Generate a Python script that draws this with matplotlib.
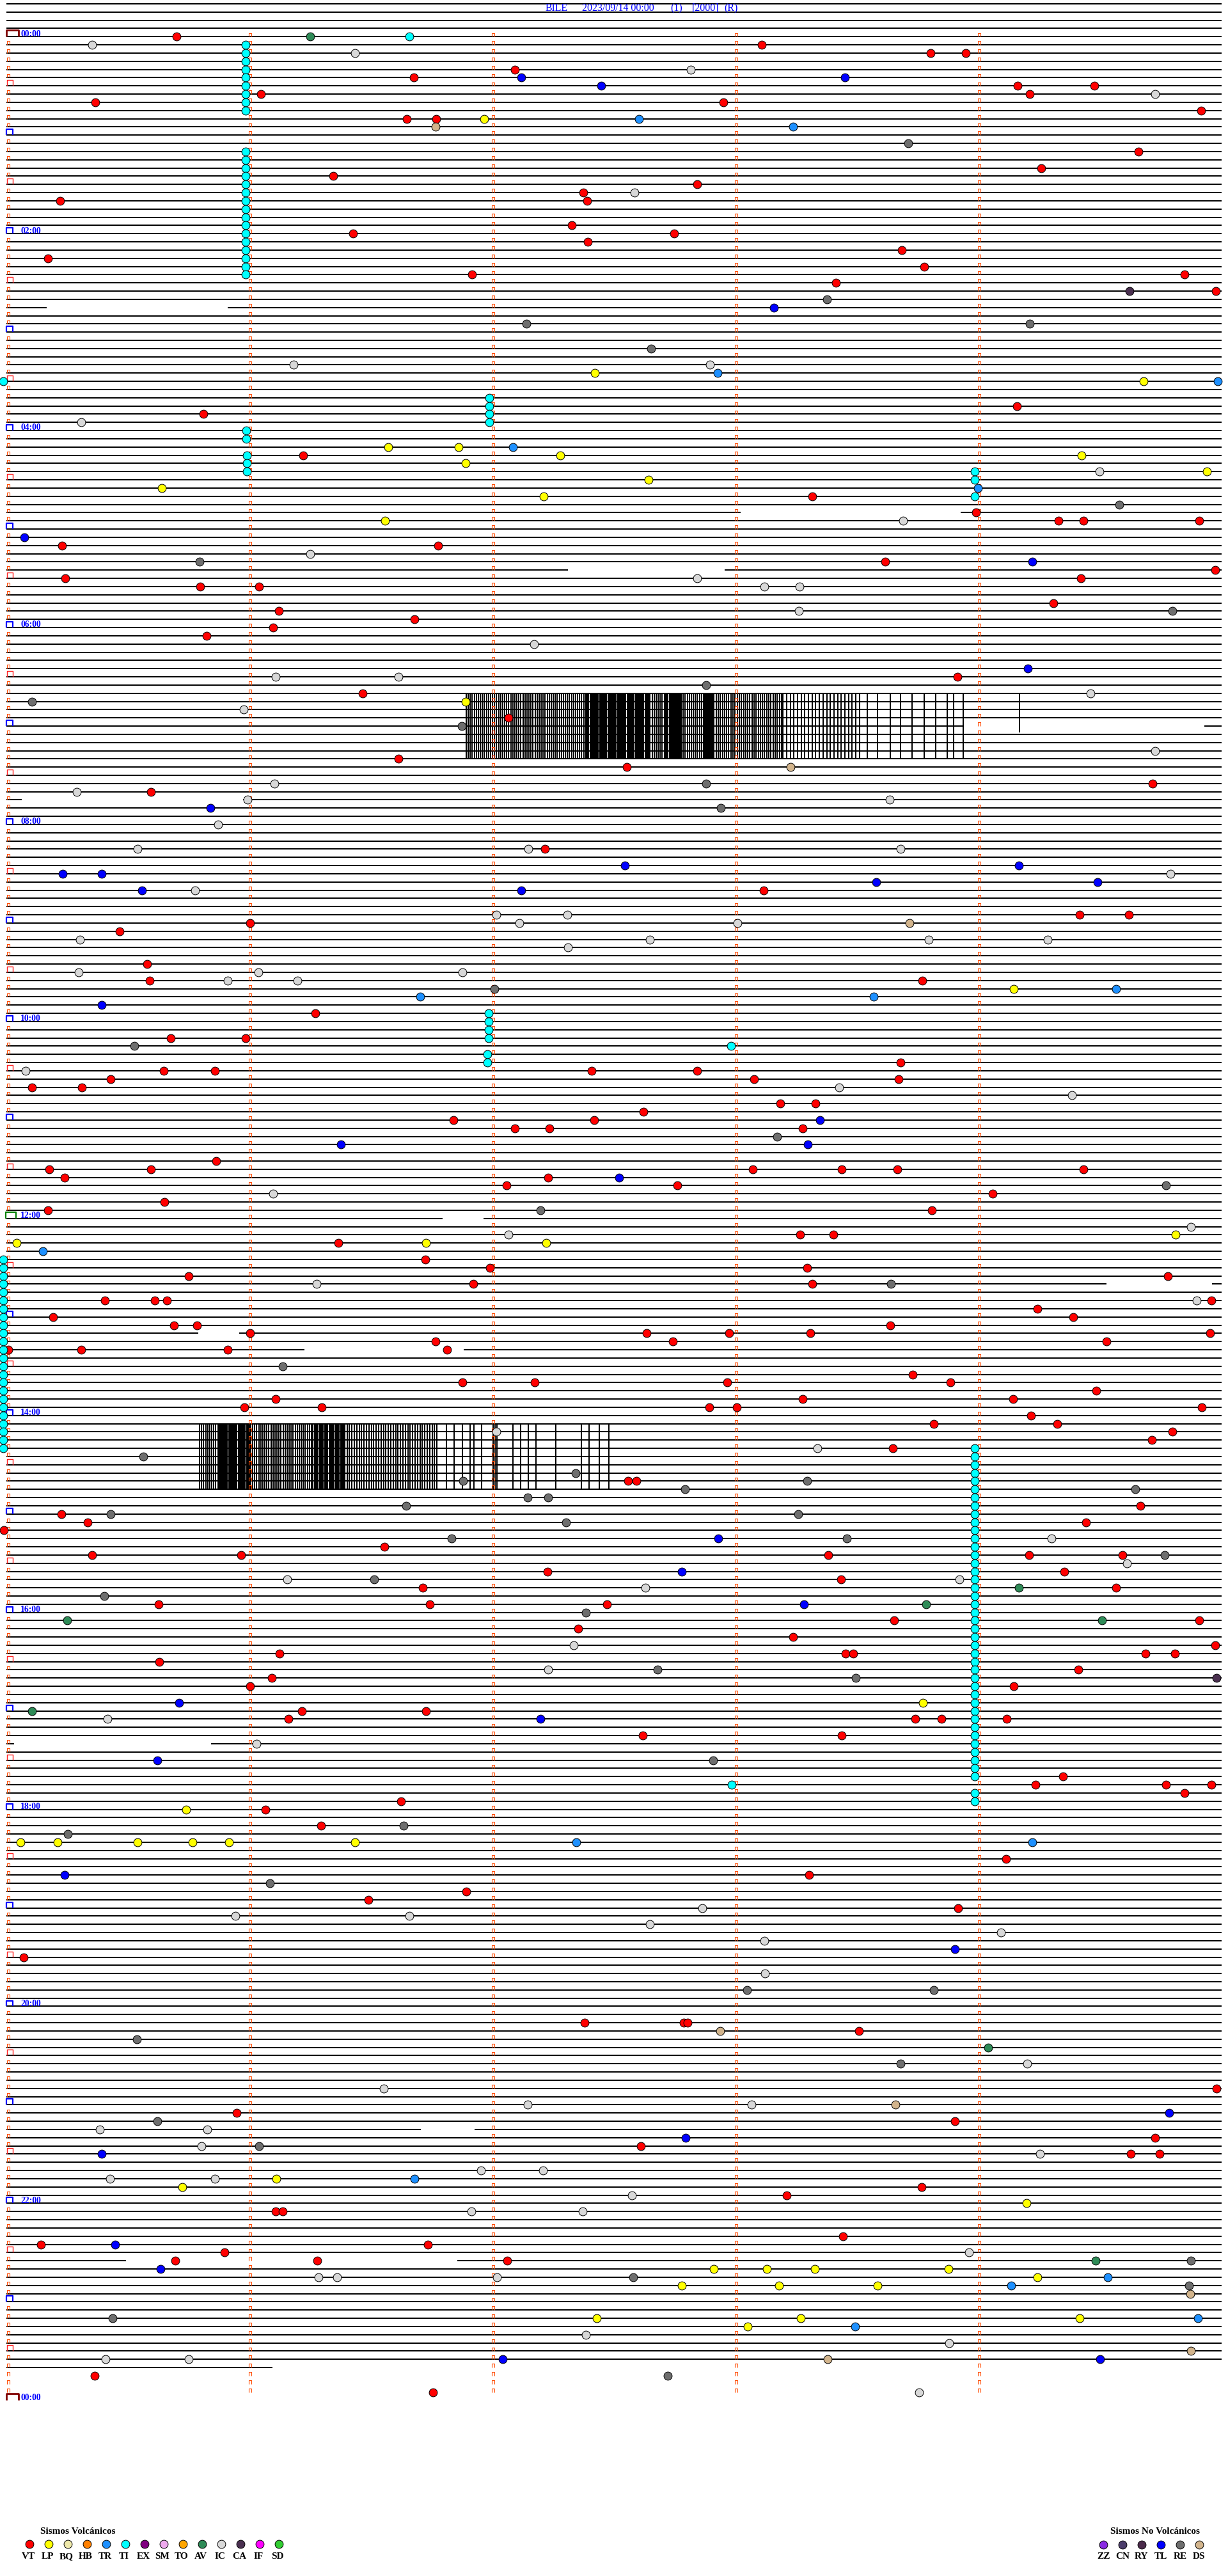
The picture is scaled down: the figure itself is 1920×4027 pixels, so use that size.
import matplotlib
matplotlib.use('Agg')
import matplotlib.pyplot as plt
from matplotlib.collections import LineCollection

# helicorder: one row = 5 minutes, x = seconds inside the row, row 0 = 00:00
ROW_SECONDS = 300
FIRST_ROW, LAST_ROW = -4, 284
LAST_ROW_END = 65.7
N_MARK_ROWS = 288

title_parts = [('BILE', 133.1), ('2023/09/14 00:00', 142.1), ('(1)', 163.9),
               ('[2000]', 169.3), ('(R)', 177.2)]
time_labels = ['00:00', '02:00', '04:00', '06:00', '08:00', '10:00', '12:00',
               '14:00', '16:00', '18:00', '20:00', '22:00', '00:00']

# (row, start sec, end sec) where the trace line is missing
line_gaps = [(33, 10.0, 54.6), (58, 181.3, 235.6), (65, 138.6, 177.3), (84, 236.2, 295.7),
             (93, 3.8, 58.4), (144, 107.7, 117.8), (152, 271.6, 297.7), (158, 47.4, 57.4),
             (160, 73.6, 112.9), (208, 1.9, 50.6), (255, 102.3, 115.6), (271, 29.5, 111.3)]

# saturated trace blocks: (first row, last row, [(start sec, end sec, pitch sec)], single lines)
block1_rows = (80, 88)
block1_bands = [(113.5, 143.4, 0.5), (143.4, 158.9, 0.34), (158.9, 162.7, 0.5), (162.7, 166.6, 0.32),
                (166.6, 172.4, 0.5), (172.4, 174.7, 0.32), (174.7, 191.7, 0.52), (191.7, 211.0, 0.9)]
block1_single = [212.6, 215.0, 218.2, 220.7, 223.6, 226.5, 229.4, 232.3, 233.9, 236.2]
block2_rows = (169, 177)
block2_bands = [(47.7, 52.5, 0.5), (52.5, 60.3, 0.34), (60.3, 75.7, 0.5), (75.7, 83.5, 0.36),
                (83.5, 106.7, 0.6), (120.2, 121.5, 0.45)]
block2_single = [108.6, 110.5, 112.5, 114.4, 115.4, 117.3, 125.0, 127.0, 128.9, 130.8,
                 135.7, 141.9, 143.8, 146.3, 148.8]
extra_trace = (250.1, 80, 84.8)

# events (row, second)
vt_events = [(0, 42), (1, 186.5), (2, 228.2), (2, 236.9), (4, 125.6), (5, 100.5), (6, 249.7), (6, 268.6),
             (7, 62.8), (7, 252.6), (8, 22), (8, 177), (9, 294.9), (10, 98.9), (10, 106.1), (14, 279.5),
             (16, 255.5), (17, 80.7), (18, 170.6), (19, 142.4), (20, 13.3), (20, 143.4), (23, 139.5),
             (24, 85.6), (24, 164.8), (25, 143.6), (26, 221.1), (27, 10.2), (28, 226.5), (29, 115),
             (29, 290.9), (30, 204.8), (31, 298.6), (45, 249.5), (46, 48.7), (51, 73.2), (56, 199),
             (58, 239.4), (59, 259.7), (59, 265.9), (59, 294.4), (62, 13.7), (62, 106.5), (64, 217),
             (65, 298.4), (66, 14.6), (66, 265.2), (67, 47.9), (67, 62.4), (69, 258.4), (70, 67.2),
             (71, 100.8), (72, 65.9), (73, 49.4), (78, 234.8), (80, 87.9), (83, 124), (88, 96.8),
             (89, 153.2), (91, 282.9), (92, 35.7), (99, 132.9), (104, 186.9), (107, 265), (107, 277.1),
             (108, 60.1), (109, 28), (113, 34.7), (115, 35.3), (115, 226.1), (119, 76.3),
             (122, 40.5), (122, 59.1), (125, 220.7), (126, 38.8), (126, 51.4), (126, 144.5), (126, 170.6),
             (127, 25.8), (127, 184.6), (127, 220.3), (128, 6.3), (128, 18.7), (130, 191.1), (130, 199.8),
             (131, 157.3), (132, 110.3), (132, 145.1), (133, 125.6), (133, 134.1), (133, 196.5),
             (137, 51.8), (138, 10.6), (138, 35.7), (138, 184.2), (138, 206.2), (138, 219.9), (138, 265.9),
             (139, 14.3), (139, 133.7), (140, 123.5), (140, 165.6), (141, 243.5), (142, 39), (143, 10.2),
             (143, 228.4), (146, 196), (146, 204.1), (147, 81.9), (149, 103.4), (150, 119.4), (150, 197.7),
             (151, 45), (151, 286.8), (152, 115.2), (152, 198.9), (154, 24.3), (154, 36.7), (154, 39.6),
             (154, 297.4), (155, 254.5), (156, 11.5), (156, 263.4), (157, 41.3), (157, 47.1), (157, 218.2),
             (158, 60.1), (158, 158.1), (158, 178.4), (158, 198.5), (158, 297.1), (159, 105.9),
             (159, 164.6), (159, 271.5), (160, 0.5), (160, 18.5), (160, 54.7), (160, 108.8), (163, 223.8),
             (164, 112.6), (164, 130.4), (164, 178), (164, 233.1), (165, 269.1), (166, 66.4), (166, 196.5),
             (166, 248.5), (167, 58.7), (167, 77.9), (167, 173.5), (167, 180.3), (167, 295.1), (168, 253),
             (169, 229), (169, 259.4), (170, 287.8), (171, 282.8), (172, 218.8), (176, 153.4), (176, 155.6),
             (179, 280), (180, 13.5), (181, 20.1), (181, 266.5), (182, -0.6),
             (184, 93.3), (185, 21.2), (185, 57.9), (185, 202.9), (185, 252.4), (185, 275.6), (187, 133.5),
             (187, 261.1), (188, 206), (189, 102.8), (189, 273.9), (191, 37.6), (191, 104.5), (191, 148.2),
             (193, 219.1), (193, 294.5), (194, 141.1), (195, 194.2), (196, 298.4), (197, 67.4), (197, 207.2),
             (197, 209.1), (197, 281.2), (197, 288.5), (198, 37.8), (199, 264.6), (200, 65.5), (201, 60.1),
             (201, 248.7), (204, 73), (204, 103.6), (205, 69.7), (205, 224.4), (205, 230.8), (205, 247),
             (207, 157.1), (207, 206.2), (212, 260.9), (213, 254.1), (213, 286.2), (213, 297.4),
             (214, 290.9), (215, 97.4), (216, 63.9), (218, 77.7), (222, 246.8), (224, 198.1), (226, 113.6),
             (227, 89.4), (228, 235), (234, 4.2), (242, 142.8), (242, 167.2), (242, 168.1), (243, 210.4),
             (250, 298.8), (253, 56.8), (254, 234.2), (256, 283.5), (257, 156.7), (258, 277.5), (258, 284.7),
             (262, 225.9), (263, 192.7), (265, 66.4), (265, 68.2), (268, 206.6), (269, 8.6), (269, 104.1),
             (270, 53.9), (271, 41.7), (271, 76.7), (271, 123.7), (285, 21.8), (287, 105.3)]
lp_events = [(10, 117.9), (41, 145.3), (42, 280.8), (50, 94.3), (50, 111.7), (51, 136.8), (51, 265.4),
             (52, 113.4), (53, 296.3), (54, 158.5), (55, 38.4), (56, 132.7), (59, 93.5), (81, 113.4),
             (116, 248.7), (146, 288.6), (147, 2.5), (147, 103.6), (147, 133.3), (203, 226.3), (216, 44.4),
             (220, 3.4), (220, 12.7), (220, 32.4), (220, 46), (220, 55), (220, 86), (261, 66.6), (262, 43.4),
             (264, 251.8), (272, 174.7), (272, 187.8), (272, 199.6), (272, 232.5), (273, 254.5),
             (274, 166.8), (274, 190.7), (274, 215.1), (278, 145.7), (278, 196.1), (278, 265), (279, 183)]
tr_events = [(10, 156.1), (11, 194.2), (41, 175.5), (42, 299), (50, 125), (55, 239.8), (116, 273.9),
             (117, 102.2), (117, 214.1), (148, 9), (220, 140.7), (220, 253.2), (261, 100.8), (273, 271.9),
             (274, 248.1), (278, 294.1), (279, 209.5)]
ti_events = [(0, 99.5), (123, 178.9), (213, 179.1)]
# runs of tremor marks: (first row, last row, second)
ti_runs = [(1, 9, 59.1), (14, 29, 59.1), (48, 49, 59.2), (51, 53, 59.4), (44, 47, 119.2),
           (119, 122, 119.1), (124, 125, 118.8), (53, 54, 239.1), (56, 56, 239.1), (172, 212, 239.1),
           (214, 215, 239.1), (42, 42, -0.8), (149, 172, -0.8)]
av_events = [(0, 75), (189, 249.9), (191, 227.1), (193, 15), (193, 270.4), (204, 6.3), (245, 242.4),
             (271, 268.9)]
ic_events = [(1, 21.2), (2, 86), (4, 168.9), (7, 283.5), (19, 155), (40, 70.9), (40, 173.7), (47, 18.5),
             (53, 269.8), (59, 221.3), (63, 75), (66, 170.6), (67, 187.1), (67, 195.8), (70, 195.6),
             (74, 130.2), (78, 66.4), (78, 96.8), (80, 267.7), (82, 58.5), (87, 283.5), (91, 66.1),
             (92, 17.3), (93, 59.5), (93, 218), (96, 52.3), (99, 32.4), (99, 128.9), (99, 220.7),
             (102, 287.4), (104, 46.5), (107, 121), (107, 138.5), (108, 126.6), (108, 180.5), (110, 18.1),
             (110, 158.8), (110, 227.7), (110, 257), (111, 138.7), (114, 17.9), (114, 62.2), (114, 112.6),
             (115, 54.7), (115, 71.9), (126, 4.8), (128, 205.6), (129, 263), (141, 65.9), (145, 292.4),
             (146, 124), (152, 76.5), (154, 293.8), (170, 121), (172, 200.2), (183, 258), (186, 276.6),
             (188, 69.3), (188, 235.2), (189, 157.7), (196, 140.1), (199, 133.7), (205, 24.9), (208, 61.8),
             (228, 171.8), (229, 56.6), (229, 99.5), (230, 158.8), (231, 245.6), (232, 187.1), (236, 187.3),
             (247, 252), (250, 93.1), (252, 128.7), (252, 184), (255, 23.1), (255, 49.6), (257, 48.1),
             (258, 255.1), (260, 117.1), (260, 132.4), (261, 25.5), (261, 51.4), (263, 154.4), (265, 114.8),
             (265, 142.2), (270, 237.7), (273, 77.1), (273, 81.7), (273, 121.1), (280, 143), (281, 232.7),
             (283, 24.5), (283, 45), (287, 225.3)]
ca_events = [(31, 277.3), (200, 298.8)]
tl_events = [(5, 127.1), (5, 207), (6, 146.9), (33, 189.4), (61, 4.4), (64, 253.2), (77, 252.2), (94, 50.4),
             (101, 152.7), (101, 249.9), (102, 13.9), (102, 23.5), (103, 214.7), (103, 269.4), (104, 33.4),
             (104, 127.1), (118, 23.5), (132, 200.8), (135, 82.5), (135, 197.9), (139, 151.3), (183, 175.7),
             (187, 166.8), (191, 196.9), (203, 42.7), (205, 131.8), (210, 37.3), (224, 14.4), (233, 234.2),
             (253, 287), (256, 167.7), (258, 23.5), (269, 26.8), (272, 38), (283, 122.5), (283, 270)]
re_events = [(13, 222.6), (32, 202.5), (35, 128.3), (35, 252.6), (38, 159.2), (57, 274.8), (64, 47.7),
             (70, 287.8), (79, 172.8), (81, 6.3), (84, 112.4), (91, 172.8), (94, 176.4), (116, 120.4),
             (123, 31.6), (134, 190.2), (140, 286.2), (143, 131.8), (152, 218.4), (162, 68.2), (173, 33.8),
             (175, 140.5), (176, 112.8), (176, 197.7), (177, 167.5), (177, 278.7), (178, 128.7),
             (178, 133.7), (179, 98.7), (180, 25.7), (180, 195.4), (181, 138.2), (183, 109.9), (183, 207.4),
             (185, 285.9), (188, 90.8), (190, 24.1), (192, 143), (199, 160.8), (200, 209.7), (210, 174.5),
             (218, 98.1), (219, 15.2), (225, 65.1), (238, 182.8), (238, 229), (244, 32.2), (247, 220.7),
             (254, 37.3), (257, 62.4), (271, 292.4), (273, 154.8), (274, 292), (278, 26.2), (285, 163.3)]
ds_events = [(11, 106), (89, 193.6), (108, 223), (243, 176.2), (252, 219.4), (275, 292.2), (282, 292.4),
             (283, 202.7)]

volc_codes = ['VT', 'LP', 'BQ', 'HB', 'TR', 'TI', 'EX', 'SM', 'TO', 'AV', 'IC', 'CA', 'IF', 'SD']
volc_colors = ['#ff0000', '#ffff00', '#eee8aa', '#ff8000', '#1e90ff', '#00ffff', '#800080',
               '#eeaaee', '#ffa500', '#2e8b57', '#d8d8d8', '#4a3050', '#ff00ff', '#32cd32']
novolc_codes = ['ZZ', 'CN', 'RY', 'TL', 'RE', 'DS']
novolc_colors = ['#8a2be2', '#4b3d6b', '#4b2b4b', '#0000ff', '#6e6e6e', '#d2b48c']
color_of = dict(zip(volc_codes + novolc_codes, volc_colors + novolc_colors))


def px_x(px):
    return (px - 10) * ROW_SECONDS / 1900.0


def px_y(py):
    return (py - 57.3) / 12.83


fig = plt.figure(figsize=(19.2, 40.27), dpi=100)
ax = fig.add_axes([0, 0, 1, 1])
ax.set_xlim(px_x(0), px_x(1920))
ax.set_ylim(px_y(4027), px_y(0))
ax.axis('off')

# trace lines
segs = []
for r in range(FIRST_ROW, LAST_ROW + 1):
    end = LAST_ROW_END if r == LAST_ROW else ROW_SECONDS
    x0 = 0
    for rr, a, b in sorted(line_gaps):
        if rr == r:
            segs.append([(x0, r), (a, r)])
            x0 = b
    segs.append([(x0, r), (end, r)])
hl = LineCollection(segs, colors='black', linewidths=1.44, zorder=1)
hl.set_snap(True)
ax.add_collection(hl)

# saturated blocks
vsegs = []
for rows, bands, singles in [(block1_rows, block1_bands, block1_single),
                             (block2_rows, block2_bands, block2_single)]:
    xs = list(singles)
    for a, b, step in bands:
        x = a
        while x <= b:
            xs.append(x)
            x += step
    for x in xs:
        vsegs.append([(x, rows[0]), (x, rows[1])])
vsegs.append([(extra_trace[0], extra_trace[1]), (extra_trace[0], extra_trace[2])])
vl = LineCollection(vsegs, colors='black', linewidths=1.44, zorder=1)
vl.set_snap(True)
ax.add_collection(vl)


# minute marks and hour brackets
def bracket(x0, r, w, h):
    return [(x0, r), (x0, r - h), (x0 + w, r - h), (x0 + w, r)]


small, half = [], []
for r in range(N_MARK_ROWS):
    for m in (60, 120, 180, 240):
        small.append(bracket(m - 0.2, r, 0.75, 0.45))
    if r % 12 == 6:
        half.append(bracket(0.1, r, 1.4, 0.7))
    elif r % 12 != 0:
        small.append(bracket(0.1, r, 0.75, 0.45))
ax.add_collection(LineCollection(small, colors='#ff4a00', linewidths=0.8, zorder=2))
ax.add_collection(LineCollection(half, colors='#ff2020', linewidths=1.0, zorder=2))

hour_br, day_br, noon_br = [], [], []
for r in range(0, N_MARK_ROWS + 1, 12):
    if r in (0, N_MARK_ROWS):
        day_br.append(bracket(0.0, r, 3.0, 0.78))
    elif r == 144:
        noon_br.append(bracket(-0.1, r, 2.5, 0.78))
    else:
        hour_br.append(bracket(0.0, r, 1.55, 0.7))
ax.add_collection(LineCollection(hour_br, colors='#0000ff', linewidths=1.6, zorder=2))
ax.add_collection(LineCollection(day_br, colors='#800000', linewidths=2.0, zorder=2))
ax.add_collection(LineCollection(noon_br, colors='#008000', linewidths=1.6, zorder=2))

for i, lab in enumerate(time_labels):
    ax.text(3.5, i * 24 - 0.05, lab, color='#0000ff', fontsize=9.8, fontweight='bold',
            family='Liberation Serif', ha='left', va='baseline', zorder=3)

for txt, x in title_parts:
    ax.text(x, -3.45, txt, color='#0000ff', fontsize=11.4, family='Liberation Serif',
            ha='left', va='center', zorder=3)

# events
ti_all = list(ti_events)
for a, b, s in ti_runs:
    ti_all += [(r, s) for r in range(a, b + 1)]
for code, evs in [('VT', vt_events), ('LP', lp_events), ('TR', tr_events), ('TI', ti_all),
                  ('AV', av_events), ('IC', ic_events), ('CA', ca_events), ('TL', tl_events),
                  ('RE', re_events), ('DS', ds_events)]:
    ax.scatter([e[1] for e in evs], [e[0] for e in evs], s=85, c=color_of[code],
               edgecolors='black', linewidths=0.7, zorder=4, clip_on=False)

# legends
ax.text(px_x(63), px_y(3957), 'Sismos Volcánicos', family='Liberation Serif', fontsize=11,
        fontweight='bold', ha='left', va='center')
for i, code in enumerate(volc_codes):
    cx = 45.6 + 30.0 * i
    ax.scatter([px_x(cx)], [px_y(3977)], s=85, c=color_of[code], edgecolors='black', linewidths=0.7)
    ax.text(px_x(cx - 1.5), px_y(3997), code, family='Liberation Serif', fontsize=11,
            fontweight='bold', ha='center', va='center')
ax.text(px_x(1806), px_y(3957), 'Sismos No Volcánicos', family='Liberation Serif', fontsize=11,
        fontweight='bold', ha='center', va='center')
for i, code in enumerate(novolc_codes):
    cx = 1725 + 30.0 * i
    ax.scatter([px_x(cx)], [px_y(3978)], s=85, c=color_of[code], edgecolors='black', linewidths=0.7)
    ax.text(px_x(cx), px_y(3997), code, family='Liberation Serif', fontsize=11,
            fontweight='bold', ha='center', va='center')

fig.savefig('out.png', dpi=100, facecolor='white')
